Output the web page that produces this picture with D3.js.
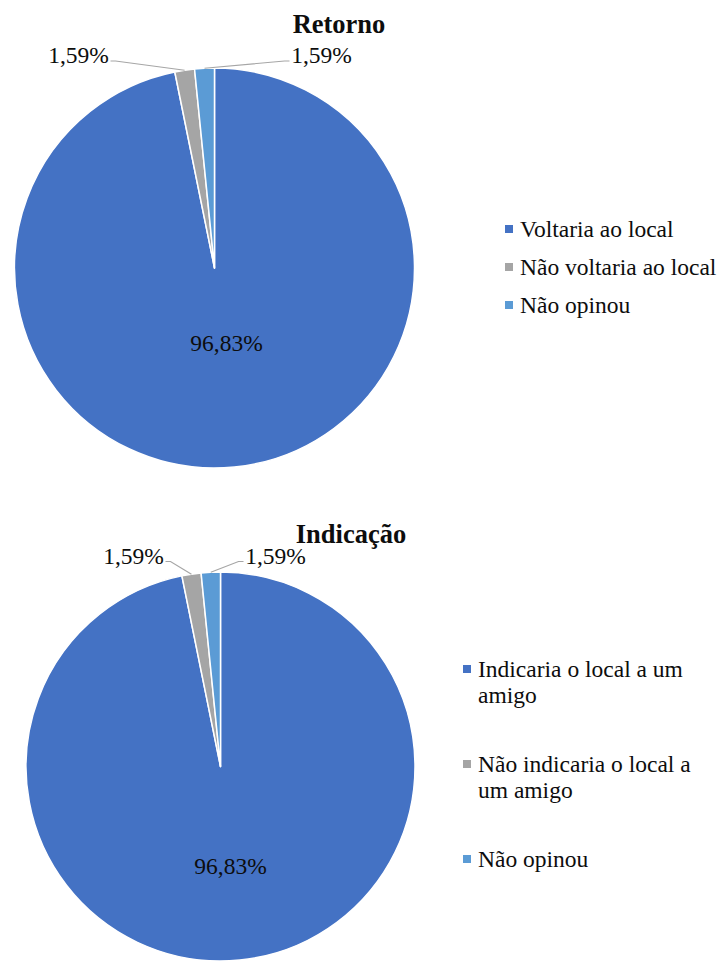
<!DOCTYPE html>
<html lang="pt">
<head>
<meta charset="utf-8">
<script src="https://cdn.jsdelivr.net/npm/d3@7"></script>
<style>
  html, body { margin: 0; padding: 0; background: #ffffff; }
</style>
</head>
<body>
<svg id="chart" width="724" height="961"></svg>
<script>
// Survey results: return intention and recommendation
const retornoCategories = ["Voltaria ao local", "Não voltaria ao local", "Não opinou"];
const retornoValues = [96.83, 1.59, 1.59];

const indicacaoCategories = [
  ["Indicaria o local a um", "amigo"],
  ["Não indicaria o local a", "um amigo"],
  ["Não opinou"]
];
const indicacaoValues = [96.83, 1.59, 1.59];

const sliceColors = ["#4472C4", "#A5A5A5", "#5B9BD5"];

const svg = d3.select("#chart");
const fmt = v => v.toFixed(2).replace(".", ",") + "%";

// Width of a probe string in a given family/size, as actually laid out
function probeWidth(family, size) {
  const t = svg.append("text")
    .attr("x", -1000).attr("y", -1000)
    .style("font-family", family)
    .attr("font-size", size)
    .text("mmmmmmmmmm");
  const w = t.node().getComputedTextLength();
  t.remove();
  return w;
}

// Pick a Times-metric serif face that really lays out at the wanted size
function pickFont() {
  const timesLike = ["'Liberation Serif'", "'Times New Roman'", "Tinos", "'Nimbus Roman'", "FreeSerif"];
  for (const size of [23.5, 22]) {
    const expected = 0.778 * size * 10;
    for (const f of timesLike) {
      const w = probeWidth(f, size);
      if (Math.abs(w - expected) / expected < 0.03) return { family: f, size };
    }
  }
  const fallbackW = probeWidth("'NoSuchFamilyXYZ'", 20);
  for (const f of ["'DejaVu Serif Condensed'", "'DejaVu Serif'", "'Noto Serif'"]) {
    const w = probeWidth(f, 20);
    if (Math.abs(w - fallbackW) > 2) return { family: f, size: f.includes("Condensed") ? 21 : 20 };
  }
  return { family: "serif", size: 22 };
}

const chosen = pickFont();
const FONT = chosen.family;
const TEXT_SIZE = chosen.size;

function addText(parent, x, y, str, opts = {}) {
  const t = parent.append("text")
    .attr("x", x).attr("y", y)
    .style("font-family", opts.family || FONT)
    .attr("font-size", opts.size || TEXT_SIZE)
    .style("fill", "#0d0d0d")
    .text(str);
  if (opts.bold) t.attr("font-weight", "bold");
  if (opts.anchor) t.attr("text-anchor", opts.anchor);
  return t;
}

function drawPie(cfg) {
  const g = svg.append("g").attr("transform", `translate(${cfg.cx},${cfg.cy})`);
  const pie = d3.pie().sort(null).value(d => d)(cfg.values);
  const arc = d3.arc().innerRadius(0).outerRadius(cfg.r);

  g.selectAll("path.slice").data(pie).join("path")
    .attr("class", "slice")
    .attr("d", arc)
    .attr("fill", (d, i) => sliceColors[i])
    .attr("stroke", "#ffffff")
    .attr("stroke-width", 1.5)
    .attr("stroke-linejoin", "round");

  // Big slice label inside (y values are baselines)
  addText(g, cfg.mainLabel[0], cfg.mainLabel[1] + 8, fmt(cfg.values[0]), { anchor: "middle" });

  // Small slices: outside labels with leader lines
  [1, 2].forEach((i, k) => {
    const d = pie[i];
    const mid = (d.startAngle + d.endAngle) / 2;
    const ax = cfg.r * Math.sin(mid), ay = -cfg.r * Math.cos(mid);
    const lp = cfg.smallLabels[k];
    const side = lp[0] < ax ? -1 : 1;
    const halfW = 32;
    const ex = lp[0] - side * halfW, ey = lp[1] + 6;
    g.append("path")
      .attr("d", `M${ax},${ay}L${ex - side * 5},${ey}L${ex},${ey}`)
      .attr("fill", "none").attr("stroke", "#A6A6A6").attr("stroke-width", 1.2);
    addText(g, lp[0], lp[1] + 8, fmt(cfg.values[i]), { anchor: "middle" });
  });

  // Title
  addText(svg, cfg.title[0], cfg.title[1] + 9, cfg.titleText,
    { family: "'Liberation Serif', serif", size: 26.5, bold: true, anchor: "middle" });

  // Legend
  const lg = svg.append("g");
  let y = cfg.legend.y;
  cfg.categories.forEach((lines, i) => {
    const arr = Array.isArray(lines) ? lines : [lines];
    lg.append("rect")
      .attr("x", cfg.legend.x).attr("y", y - 4)
      .attr("width", 8).attr("height", 8)
      .attr("fill", sliceColors[i]);
    arr.forEach((t, j) => {
      addText(lg, cfg.legend.x + 15, y + 8 + j * cfg.legend.lineH, t);
    });
    y += cfg.legend.step;
  });
}

drawPie({
  cx: 214.5, cy: 268, r: 200,
  values: retornoValues,
  categories: retornoCategories,
  titleText: "Retorno", title: [339, 24],
  mainLabel: [12, 75],
  smallLabels: [[-136, -213], [107, -213]],
  legend: { x: 505, y: 229, step: 38, lineH: 25 }
});

drawPie({
  cx: 220.5, cy: 766.5, r: 194.5,
  values: indicacaoValues,
  categories: indicacaoCategories,
  titleText: "Indicação", title: [351, 534],
  mainLabel: [10, 99],
  smallLabels: [[-87, -211], [55, -211]],
  legend: { x: 463, y: 669, step: 95, lineH: 26 }
});
</script>
</body>
</html>
